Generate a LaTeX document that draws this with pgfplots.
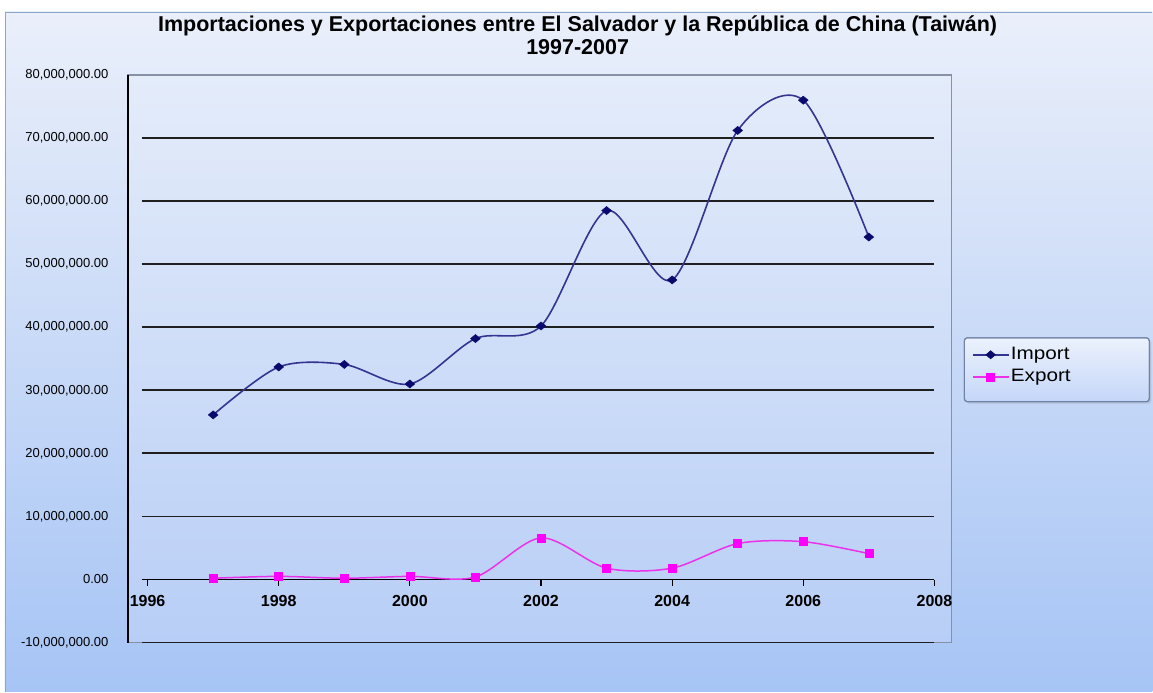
\documentclass[border=0pt]{standalone}
\usepackage{pgfplots}
\pgfplotsset{compat=1.18}
\usepackage{fontspec}
\setmainfont{Liberation Sans}
\newfontfamily\legfont[FakeStretch=1.15]{Liberation Sans}
\usetikzlibrary{shadings,shadows}

\definecolor{bgtop}{RGB}{234,239,250}
\definecolor{bgbot}{RGB}{166,196,245}
\definecolor{chartborder}{RGB}{140,165,205}
\definecolor{patop}{RGB}{228,236,250}
\definecolor{pabot}{RGB}{184,206,246}
\definecolor{paborder}{RGB}{135,145,165}
\definecolor{imp}{RGB}{52,52,145}
\definecolor{impmark}{RGB}{10,10,110}
\definecolor{expc}{RGB}{235,50,235}
\definecolor{expmark}{RGB}{255,0,255}
\definecolor{legtop}{RGB}{236,242,253}
\definecolor{legbot}{RGB}{196,214,248}
\definecolor{legborder}{RGB}{110,130,165}

\begin{document}
\begin{tikzpicture}[x=1pt,y=1pt]
\fill[white] (0,0) rectangle (1153,692);
\shade[top color=bgtop,bottom color=bgbot] (5,0) rectangle (1153,680);
\draw[chartborder,line width=1.5pt] (5.75,0) -- (5.75,679.25) -- (1153,679.25);
\shade[top color=patop,bottom color=pabot] (128,49) rectangle (952,617);
\draw[paborder,line width=1.2pt] (128,49) rectangle (952,617);
\draw[black,line width=2pt] (128,49) -- (128,617);
\node[font=\bfseries\fontsize{21.5}{23}\selectfont,anchor=base] at (578,660.5)
  {Importaciones y Exportaciones entre El Salvador y la República de China (Taiwán)};
\node[font=\bfseries\fontsize{21.5}{23}\selectfont,anchor=base] at (578,637.5) {1997-2007};
\shade[top color=legtop,bottom color=legbot,rounded corners=3pt,draw=legborder,line width=1pt,
  drop shadow={opacity=0.25,shadow xshift=2pt,shadow yshift=-2pt}] (965,290) rectangle (1150,354);
\draw[legborder,line width=1pt,rounded corners=3pt] (965,290) rectangle (1150,354);
\begin{axis}[
  at={(142pt,49pt)}, anchor=south west,
  scale only axis, width=793pt, height=568pt,
  xmin=1995.913, xmax=2008,
  ymin=-10000000, ymax=80000000,
  axis x line=middle, axis y line=left,
  x axis line style={-,black,line width=1.5pt},
  y axis line style={draw=none},
  xtick={1996,1998,2000,2002,2004,2006,2008},
  xticklabels={1996,1998,2000,2002,2004,2006,2008},
  ytick={-10000000,0,10000000,20000000,30000000,40000000,50000000,60000000,70000000},
  extra y ticks={80000000},
  extra y tick style={grid=none},
  scaled y ticks=false,
  ytick style={draw=none},
  xtick style={black,line width=1.2pt},
  major tick length=6pt,
  tick align=outside,
  ymajorgrids,
  major grid style={black!88,line width=1.8pt},
  /pgf/number format/assume math mode=true,
  yticklabel style={font=\fontsize{13}{13}\selectfont,xshift=-24pt,
    /pgf/number format/.cd,fixed,fixed zerofill,precision=2,1000 sep={,}},
  xticklabel style={font=\bfseries\fontsize{16}{16}\selectfont,yshift=-6pt},
  legend style={at={(1.0479,0.522)},anchor=north west,draw=none,fill=none,
    inner sep=0pt,outer sep=0pt,row sep=5pt,
    font=\legfont\fontsize{18}{18}\selectfont,
    nodes={inner sep=0pt,text height=12.9pt,text depth=4.1pt}},
  legend cell align=left,
  legend image code/.code={\draw[mark repeat=2,mark phase=2,#1] plot coordinates {(0pt,0pt) (17.5pt,0pt) (35pt,0pt)};},
]
\addplot[imp,line width=1.6pt,smooth,tension=0.5,mark=diamond*,mark size=4.8pt,
  mark options={fill=impmark,draw=impmark,line width=0.5pt,xscale=1.35,yscale=0.85}] coordinates {
  (1997,26100000) (1998,33700000) (1999,34100000) (2000,31000000)
  (2001,38200000) (2002,40200000) (2003,58500000) (2004,47500000)
  (2005,71200000) (2006,76000000) (2007,54300000)};
\addlegendentry{\hspace{2pt}Import}
\addplot[expc,line width=1.5pt,smooth,tension=0.5,mark=square*,mark size=4pt,
  mark options={fill=expmark,draw=expmark,line width=0.5pt}] coordinates {
  (1997,200000) (1998,500000) (1999,200000) (2000,500000)
  (2001,400000) (2002,6600000) (2003,1800000) (2004,1800000)
  (2005,5700000) (2006,6000000) (2007,4100000)};
\addlegendentry{\hspace{2pt}Export}
\end{axis}
\end{tikzpicture}
\end{document}
